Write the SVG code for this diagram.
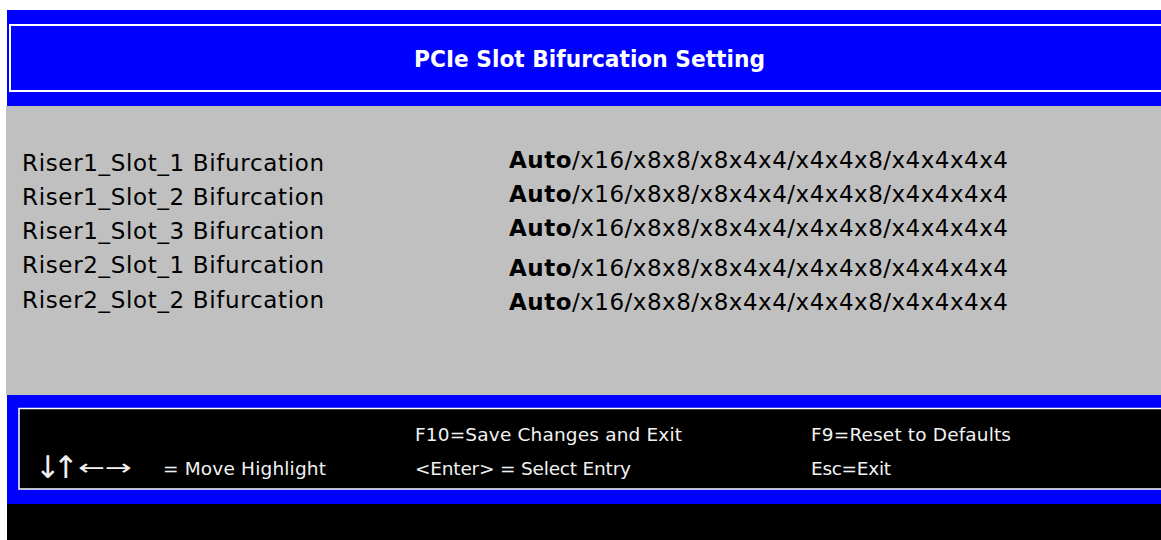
<svg xmlns="http://www.w3.org/2000/svg" width="1161" height="540" viewBox="0 0 1161 540">
<style>
.t{font-family:"DejaVu Sans","Noto Sans",sans-serif}
.lbl{font-size:23px;fill:#000}
.val{font-size:23px;fill:#000}
.b{font-weight:bold}
.ft{font-size:18.5px;fill:#f2f2f2}
.ar{font-family:"DejaVu Sans",sans-serif;fill:#f2f2f2}
</style>
<rect x="0" y="0" width="1161" height="540" fill="#fff"/>
<g id="header">
<rect x="7" y="10" width="1154" height="96" fill="#0000ff"/>
<rect x="10" y="25" width="1160" height="66" fill="none" stroke="#fff" stroke-width="2"/>
<text class="t b" x="414" y="67" font-size="23" fill="#fff" textLength="351" lengthAdjust="spacingAndGlyphs">PCIe Slot Bifurcation Setting</text>
</g>
<g id="body">
<rect x="6" y="106" width="1155" height="289" fill="#c0c0c0"/>
<g class="t lbl">
<text x="22" y="171" textLength="302">Riser1_Slot_1 Bifurcation</text>
<text x="22" y="205" textLength="302">Riser1_Slot_2 Bifurcation</text>
<text x="22" y="239" textLength="302">Riser1_Slot_3 Bifurcation</text>
<text x="22" y="273" textLength="302">Riser2_Slot_1 Bifurcation</text>
<text x="22" y="308" textLength="302">Riser2_Slot_2 Bifurcation</text>
</g>
<g class="t val">
<text x="509" y="168" textLength="499"><tspan class="b">Auto</tspan>/x16/x8x8/x8x4x4/x4x4x8/x4x4x4x4</text>
<text x="509" y="202" textLength="499"><tspan class="b">Auto</tspan>/x16/x8x8/x8x4x4/x4x4x8/x4x4x4x4</text>
<text x="509" y="236" textLength="499"><tspan class="b">Auto</tspan>/x16/x8x8/x8x4x4/x4x4x8/x4x4x4x4</text>
<text x="509" y="276" textLength="499"><tspan class="b">Auto</tspan>/x16/x8x8/x8x4x4/x4x4x8/x4x4x4x4</text>
<text x="509" y="310" textLength="499"><tspan class="b">Auto</tspan>/x16/x8x8/x8x4x4/x4x4x8/x4x4x4x4</text>
</g>
</g>
<g id="footer">
<rect x="7" y="395" width="1154" height="109" fill="#0000ff"/>
<rect x="19" y="408.5" width="1150" height="80.5" fill="#000" stroke="#fff" stroke-width="1.5"/>
<rect x="7" y="504" width="1154" height="36" fill="#000"/>
<text class="ar" x="35 53" y="478" font-size="31">↓↑</text>
<text class="ar" x="78" y="475" font-size="22" textLength="54" lengthAdjust="spacingAndGlyphs">←→</text>
<g class="t ft">
<text x="163" y="475" textLength="163">= Move Highlight</text>
<text x="415" y="441" textLength="267">F10=Save Changes and Exit</text>
<text x="415" y="475" textLength="216">&lt;Enter&gt; = Select Entry</text>
<text x="811" y="441" textLength="200">F9=Reset to Defaults</text>
<text x="811" y="475" textLength="80">Esc=Exit</text>
</g>
</g>
</svg>
